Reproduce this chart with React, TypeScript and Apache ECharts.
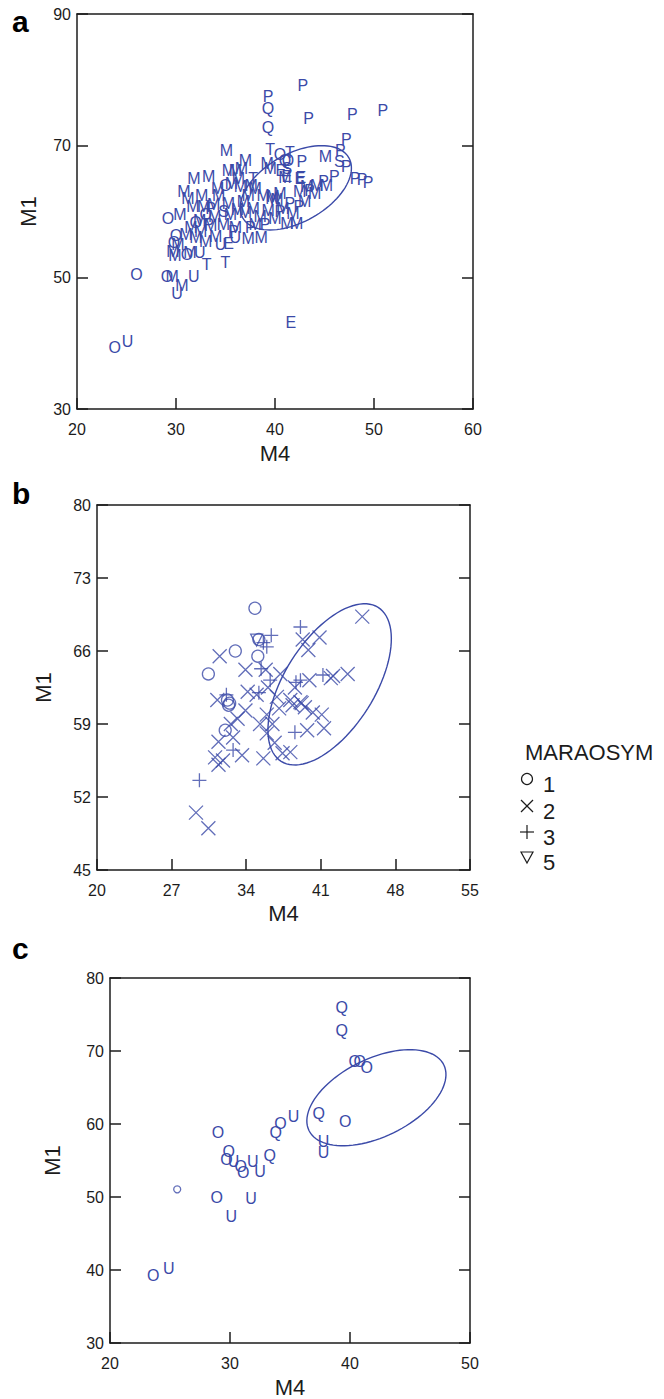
import React, { useEffect, useRef } from "react";
import * as echarts from "echarts";

const BLUE = "#3b4aa8";
const INK = "#1c1c1c";
const FONT = "'Liberation Sans', Arial, Helvetica, sans-serif";

// ---------------- Panel a : letter-coded cases (M4, M1) ----------------
const aM: [number, number][] = [
  [35.1, 69.3], [31.8, 65.0], [33.3, 65.3], [30.8, 63.0], [34.2, 63.5], [35.3, 66.3], [36.0, 66.3],
  [36.6, 66.6], [35.6, 64.3], [36.5, 63.8], [31.7, 60.8], [32.8, 60.8], [34.3, 62.5], [35.3, 61.2],
  [37.3, 62.5], [38.8, 62.5], [39.8, 62.3], [40.5, 62.8], [32.4, 58.7], [33.9, 59.2], [36.0, 57.5],
  [37.3, 55.9], [38.6, 56.1], [39.2, 67.3], [39.5, 66.5], [45.1, 68.3], [41.0, 65.2], [43.2, 63.8],
  [44.2, 64.0], [45.2, 64.0], [39.7, 62.0], [40.2, 61.8], [41.8, 59.7], [41.2, 58.2], [42.2, 58.2],
  [29.9, 53.3], [30.2, 55.0], [29.6, 50.1], [30.6, 48.8], [31.0, 56.5], [31.5, 57.5], [32.0, 56.0],
  [32.5, 57.0], [33.0, 55.5], [33.5, 57.8], [34.0, 56.2], [34.8, 58.0], [35.5, 59.5], [36.2, 60.3],
  [37.0, 59.8], [37.8, 60.5], [38.5, 59.2], [39.3, 60.2], [40.0, 59.0], [40.8, 60.5], [38.0, 58.0],
  [36.8, 61.5], [38.0, 63.5], [30.4, 59.5], [31.2, 62.0], [32.6, 62.5], [33.8, 61.0], [36.3, 65.0],
  [37.0, 67.8], [37.6, 64.0], [43.0, 61.5], [44.0, 62.8], [42.5, 63.0], [29.7, 54.0], [31.4, 53.8],
];
const aP: [number, number][] = [
  [42.8, 79.2], [39.3, 77.5], [43.4, 74.2], [47.8, 74.7], [50.9, 75.4], [47.2, 71.0], [46.6, 69.3],
  [47.2, 66.8], [42.7, 67.6], [44.9, 64.6], [46.0, 65.3], [48.1, 65.0], [48.8, 64.8], [49.4, 64.4],
  [41.5, 61.2], [42.4, 60.8], [33.5, 60.5], [33.3, 58.0], [35.8, 57.0], [37.5, 57.5], [39.0, 58.0],
  [43.5, 63.2], [40.5, 60.0],
];
const aQ: [number, number][] = [[39.3, 75.7], [39.3, 72.7], [41.0, 67.8]];
const aT: [number, number][] = [[39.5, 69.4], [37.8, 65.0], [33.1, 52.0], [35.0, 52.2], [41.5, 69.0]];
const aO: [number, number][] = [
  [40.5, 68.6], [41.3, 67.8], [29.2, 59.0], [30.0, 56.4], [29.8, 55.3], [31.1, 53.5], [26.0, 50.5],
  [29.1, 50.1], [23.8, 39.3], [33.0, 59.5], [32.0, 58.3], [35.0, 64.0],
];
const aU: [number, number][] = [[25.1, 40.3], [30.1, 47.6], [31.8, 50.1], [32.4, 53.7], [36.0, 56.0], [34.5, 55.0]];
const aE: [number, number][] = [[41.2, 65.3], [42.5, 65.0], [42.6, 65.1], [41.6, 43.2], [35.3, 55.2], [40.6, 66.2]];
const aS: [number, number][] = [[46.5, 67.6], [41.2, 66.5], [34.8, 60.0]];

// ---------------- Panel b : MARAOSYM groups ----------------
const bGroup1: [number, number][] = [
  [34.82, 70.1], [35.19, 67.1], [35.09, 65.5], [32.98, 66.0], [30.45, 63.8], [32.45, 61.0], [32.24, 61.3],
  [32.35, 60.8], [32.03, 58.4],
];
const bGroup2: [number, number][] = [
  [44.89, 69.3], [31.51, 65.5], [33.93, 64.2], [35.83, 64.2], [37.2, 63.8], [39.3, 67.1], [39.83, 66.1],
  [40.88, 67.3], [36.04, 62.5], [34.14, 62.1], [34.98, 61.8], [36.88, 61.6], [38.57, 62.5], [39.93, 63.2],
  [31.29, 61.3], [42.15, 63.6], [41.94, 63.4], [43.52, 63.8], [38.14, 61.3], [39.09, 61.1], [39.51, 60.6],
  [40.25, 60.1], [41.09, 59.9], [33.93, 60.3], [35.93, 59.9], [35.3, 59.0], [36.46, 59.0], [35.93, 58.1],
  [36.67, 57.2], [35.61, 55.7], [37.41, 56.2], [38.14, 56.3], [39.72, 58.4], [38.35, 60.8], [39.2, 61.0],
  [31.4, 57.3], [32.77, 57.7], [33.61, 56.0], [31.08, 55.8], [31.82, 55.5], [31.4, 55.1], [29.29, 50.5],
  [30.45, 49.0], [41.3, 58.6], [37.09, 60.5], [33.19, 59.5], [32.56, 59.0],
];
const bGroup3: [number, number][] = [
  [36.35, 67.5], [35.93, 66.4], [35.61, 66.8], [39.09, 68.3], [35.4, 64.3], [36.25, 63.2], [38.67, 63.0],
  [41.2, 63.7], [39.09, 63.2], [32.14, 61.8], [32.77, 56.5], [38.57, 58.2], [29.61, 53.6], [35.19, 62.0],
];
const bGroup5: [number, number][] = [[34.98, 67.05]];

// ---------------- Panel c : letter-coded cases ----------------
const cO: [number, number][] = [
  [40.4, 68.6], [40.8, 68.6], [41.4, 67.7], [39.6, 60.3], [34.2, 60.1], [29.0, 58.8], [29.9, 56.2],
  [29.7, 55.2], [30.9, 54.15], [31.1, 53.3], [28.9, 50.0], [23.6, 39.3],
];
const cU: [number, number][] = [
  [37.8, 57.6], [37.8, 56.1], [35.3, 61.0], [30.3, 54.8], [31.9, 54.8], [32.5, 53.5], [31.75, 49.8],
  [30.1, 47.3], [24.9, 40.2],
];
const cQ: [number, number][] = [[39.3, 75.9], [39.3, 72.8], [37.4, 61.4], [33.8, 58.8], [33.3, 55.75]];
const cSmall: [number, number][] = [[25.6, 51.05]];

// ---------------- Ellipses (center, semi-axis vectors in data units) ----------------
const ellipseA = { center: [42.1, 63.6], u: [5.36, 4.56], v: [-1.69, 4.5] };
const ellipseB = { center: [41.83, 62.8], u: [4.55, 7.38], v: [-3.58, 2.3] };
const ellipseC = { center: [42.2, 63.6], u: [5.62, 4.49], v: [-1.42, 4.81] };

// ---------------- Axes ----------------
const aX = [20, 60, 10];
const aY = [30, 90, 20];
const bX = [20, 55, 7];
const bY = [45, 80, 7];
const cX = [20, 50, 10];
const cY = [30, 80, 10];
const xTitle = "M4";
const yTitle = "M1";
const legendTitle = "MARAOSYM";
const legendCodes = ["1", "2", "3", "5"];
const panelLetters = ["a", "b", "c"];

function axisPair(grid: number, r: number[], isX: boolean, nameGap: number) {
  const base: any = {
    type: "value",
    gridIndex: grid,
    min: 0,
    max: r[1] - r[0],
    interval: r[2],
    splitLine: { show: false },
    axisLine: { show: true, onZero: false, lineStyle: { color: INK, width: 1.5 } },
    axisTick: { show: true, inside: true, length: 11, lineStyle: { color: INK, width: 1.5 } },
  };
  const main = {
    ...base,
    position: isX ? "bottom" : "left",
    axisLabel: {
      show: true,
      margin: isX ? 12 : 6,
      fontSize: 16,
      color: INK,
      fontFamily: FONT,
      formatter: (v: number) => String(Math.round(v + r[0])),
    },
    name: isX ? xTitle : yTitle,
    nameLocation: "middle",
    nameGap,
    nameTextStyle: { fontSize: 22, color: INK, fontFamily: FONT },
  };
  const mirror = {
    ...base,
    position: isX ? "top" : "right",
    axisLabel: { show: false },
    axisTick: isX ? { show: false } : base.axisTick,
  };
  return [main, mirror];
}

function shift(d: [number, number][], r0x: number, r0y: number) {
  return d.map((p) => [p[0] - r0x, p[1] - r0y]);
}

function letterSeries(d: [number, number][], letter: string, ai: number, xr: number[], yr: number[], size = 16) {
  return {
    type: "custom",
    name: letter,
    xAxisIndex: ai,
    yAxisIndex: ai,
    data: shift(d, xr[0], yr[0]),
    renderItem: (_p: any, api: any) => {
      const c = api.coord([api.value(0), api.value(1)]);
      return {
        type: "text",
        x: c[0],
        y: c[1],
        style: {
          text: letter,
          fill: BLUE,
          fontSize: size,
          fontFamily: FONT,
          align: "center",
          verticalAlign: "middle",
        },
      };
    },
  };
}

function ellipseSeries(e: any, ai: number, xr: number[], yr: number[]) {
  const cx = e.center[0] - xr[0];
  const cy = e.center[1] - yr[0];
  return {
    type: "custom",
    xAxisIndex: ai,
    yAxisIndex: ai,
    data: [[cx, cy, cx + e.u[0], cy + e.u[1], cx + e.v[0], cy + e.v[1]]],
    renderItem: (_p: any, api: any) => {
      const c = api.coord([api.value(0), api.value(1)]);
      const pu = api.coord([api.value(2), api.value(3)]);
      const pv = api.coord([api.value(4), api.value(5)]);
      const U = [pu[0] - c[0], pu[1] - c[1]];
      const V = [pv[0] - c[0], pv[1] - c[1]];
      const pts: number[][] = [];
      const n = 96;
      for (let k = 0; k <= n; k++) {
        const t = (2 * Math.PI * k) / n;
        pts.push([c[0] + U[0] * Math.cos(t) + V[0] * Math.sin(t), c[1] + U[1] * Math.cos(t) + V[1] * Math.sin(t)]);
      }
      return {
        type: "polyline",
        shape: { points: pts },
        style: { fill: "none", stroke: BLUE, lineWidth: 1.4 },
      };
    },
  };
}

function markerSeries(d: [number, number][], symbol: string, size: number, ai: number, xr: number[], yr: number[]) {
  return {
    type: "scatter",
    xAxisIndex: ai,
    yAxisIndex: ai,
    data: shift(d, xr[0], yr[0]),
    symbol,
    symbolSize: size,
    itemStyle: { color: "rgba(0,0,0,0)", borderColor: BLUE, borderWidth: 1.3 },
  };
}

const SYM_X = "path://M0,0L10,10M10,0L0,10";
const SYM_PLUS = "path://M5,0L5,10M0,5L10,5";
const SYM_TRI = "path://M0,0L10,0L5,9Z";

export default function App() {
  const ref = useRef<HTMLDivElement>(null);
  useEffect(() => {
    document.body.style.margin = "0";
    if (!ref.current) return;
    const chart = echarts.init(ref.current, undefined, { renderer: "svg" });

    const [ax0, ax1] = axisPair(0, aX, true, 33);
    const [ay0, ay1] = axisPair(0, aY, false, 38);
    const [bx0, bx1] = axisPair(1, bX, true, 32);
    const [by0, by1] = axisPair(1, bY, false, 43);
    const [cx0, cx1] = axisPair(2, cX, true, 33);
    const [cy0, cy1] = axisPair(2, cY, false, 47);

    const legendX = 527;
    const legendRows = [779, 806, 832, 857];
    const lg: any[] = [
      { type: "text", left: 525, top: 741, style: { text: legendTitle, fill: INK, fontSize: 22, fontFamily: FONT } },
      { type: "circle", shape: { cx: legendX, cy: legendRows[0], r: 5.5 }, style: { fill: "none", stroke: INK, lineWidth: 1.2 } },
      { type: "line", shape: { x1: legendX - 6, y1: legendRows[1] - 6, x2: legendX + 6, y2: legendRows[1] + 6 }, style: { stroke: INK, lineWidth: 1.2 } },
      { type: "line", shape: { x1: legendX + 6, y1: legendRows[1] - 6, x2: legendX - 6, y2: legendRows[1] + 6 }, style: { stroke: INK, lineWidth: 1.2 } },
      { type: "line", shape: { x1: legendX - 7, y1: legendRows[2], x2: legendX + 7, y2: legendRows[2] }, style: { stroke: INK, lineWidth: 1.2 } },
      { type: "line", shape: { x1: legendX, y1: legendRows[2] - 7, x2: legendX, y2: legendRows[2] + 7 }, style: { stroke: INK, lineWidth: 1.2 } },
      { type: "polygon", shape: { points: [[legendX - 6, legendRows[3] - 5], [legendX + 6, legendRows[3] - 5], [legendX, legendRows[3] + 6]] }, style: { fill: "none", stroke: INK, lineWidth: 1.2 } },
    ];
    legendCodes.forEach((code, i) => {
      lg.push({ type: "text", left: 543, top: legendRows[i] - 6, style: { text: code, fill: INK, fontSize: 22, fontFamily: FONT } });
    });
    const letterTops = [6, 478, 933];
    panelLetters.forEach((l, i) => {
      lg.push({ type: "text", left: 12, top: letterTops[i], style: { text: l, fill: "#000", fontSize: 30, fontWeight: "bold", fontFamily: FONT } });
    });

    chart.setOption({
      animation: false,
      backgroundColor: "#fff",
      grid: [
        { left: 77, top: 14, width: 396, height: 395 },
        { left: 97, top: 505, width: 373, height: 365 },
        { left: 110, top: 978, width: 360, height: 365 },
      ],
      xAxis: [ax0, ax1, bx0, bx1, cx0, cx1],
      yAxis: [ay0, ay1, by0, by1, cy0, cy1],
      graphic: lg,
      series: [
        ellipseSeries(ellipseA, 0, aX, aY),
        letterSeries(aM, "M", 0, aX, aY),
        letterSeries(aP, "P", 0, aX, aY),
        letterSeries(aQ, "Q", 0, aX, aY),
        letterSeries(aT, "T", 0, aX, aY),
        letterSeries(aO, "O", 0, aX, aY),
        letterSeries(aU, "U", 0, aX, aY),
        letterSeries(aE, "E", 0, aX, aY),
        letterSeries(aS, "S", 0, aX, aY),
        ellipseSeries(ellipseB, 2, bX, bY),
        markerSeries(bGroup1, "circle", 12, 2, bX, bY),
        markerSeries(bGroup2, SYM_X, 14, 2, bX, bY),
        markerSeries(bGroup3, SYM_PLUS, 14, 2, bX, bY),
        markerSeries(bGroup5, SYM_TRI, 12, 2, bX, bY),
        ellipseSeries(ellipseC, 4, cX, cY),
        letterSeries(cO, "O", 4, cX, cY),
        letterSeries(cU, "U", 4, cX, cY),
        letterSeries(cQ, "Q", 4, cX, cY),
        markerSeries(cSmall, "circle", 7, 4, cX, cY),
      ],
    });
    return () => chart.dispose();
  }, []);
  return <div ref={ref} style={{ width: 664, height: 1399 }} />;
}
